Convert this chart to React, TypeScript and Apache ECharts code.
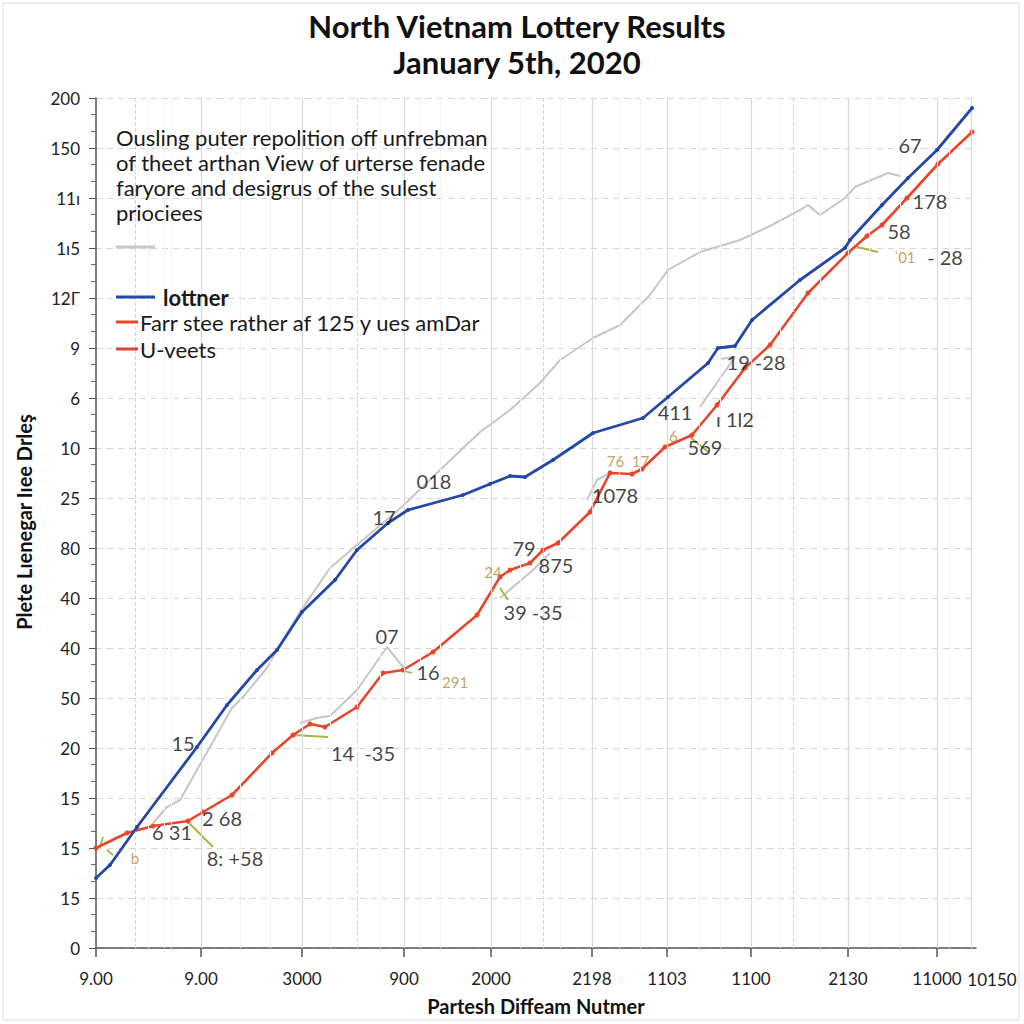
import React, { useEffect, useRef } from "react";
import * as echarts from "echarts";

// ---------- data ----------
const yTickLabels = ["0", "15", "15", "15", "20", "50", "40", "40", "80", "25", "10", "6", "9", "12Γ", "1ı5", "11ı", "150", "200"];
const xTickValues = [0, 11.93, 23.41, 35.0, 44.89, 56.36, 64.89, 74.43, 85.45, 95.57];
const xTickLabels = ["9.00", "9.00", "3000", "900", "2000", "2198", "1103", "1100", "2130", "11000"];
const xExtraLabel = "10150";

const blueSeries: [number, number][] = [
  [0, 1.4], [1.59, 1.66], [4.66, 2.42], [11.48, 4.02], [14.89, 4.86], [18.3, 5.56], [20.57, 5.96],
  [23.41, 6.72], [27.16, 7.36], [29.66, 7.96], [33.18, 8.5], [35.45, 8.76], [41.7, 9.06], [44.77, 9.28],
  [47.05, 9.44], [48.75, 9.42], [51.93, 9.76], [56.48, 10.3], [62.16, 10.6], [65.0, 11.02], [69.55, 11.7],
  [70.68, 12.0], [72.61, 12.04], [74.55, 12.56], [80.0, 13.36], [85.11, 14.0], [85.68, 14.16],
  [89.32, 14.86], [92.27, 15.4], [95.57, 15.96], [99.55, 16.8],
];

const redSeries: [number, number][] = [
  [0, 2.0], [3.52, 2.3], [6.48, 2.44], [10.45, 2.54], [12.16, 2.72], [15.45, 3.06], [20.0, 3.9],
  [22.39, 4.26], [24.32, 4.48], [26.02, 4.42], [29.66, 4.82], [32.61, 5.5], [34.89, 5.56], [38.3, 5.92],
  [43.3, 6.66], [45.91, 7.42], [47.05, 7.56], [49.32, 7.7], [50.8, 7.96], [52.5, 8.1], [56.14, 8.72],
  [58.41, 9.5], [60.91, 9.48], [62.05, 9.58], [64.66, 10.02], [67.73, 10.26], [70.57, 10.86],
  [73.75, 11.6], [76.59, 12.06], [80.91, 13.1], [85.45, 13.9], [87.61, 14.24], [89.32, 14.46],
  [92.16, 15.0], [95.68, 15.68], [99.55, 16.32],
];

const grayMain: [number, number][] = [
  [6.48, 2.5], [8.07, 2.82], [9.55, 2.96], [11.02, 3.42], [15.45, 4.8], [16.7, 5.02], [19.43, 5.6],
  [20.57, 5.96], [23.18, 6.72], [26.59, 7.6], [29.66, 8.06], [35.0, 8.86], [39.09, 9.56], [43.64, 10.32],
  [47.05, 10.76], [50.45, 11.3], [52.73, 11.76], [56.48, 12.2], [59.55, 12.46], [62.95, 13.06],
  [65.0, 13.56], [68.64, 13.92], [73.18, 14.16], [76.59, 14.44], [80.0, 14.76], [80.91, 14.86],
  [82.27, 14.66], [85.11, 15.0], [86.25, 15.22], [90.0, 15.5], [91.36, 15.44],
];
const graySegB: [number, number][] = [[23.18, 4.5], [25.11, 4.6], [26.59, 4.64], [29.66, 5.16], [33.07, 6.02], [34.89, 5.62]];
const graySegC: [number, number][] = [[45.91, 7.0], [49.66, 7.56], [51.59, 7.9]];
const graySegD: [number, number][] = [[55.8, 8.96], [56.93, 9.36], [58.41, 9.5]];
const graySegE: [number, number][] = [[68.64, 10.82], [72.61, 11.82], [70.91, 11.78]];

// annotations: [x, y, text, kind]  kind 0 = dark, 1 = olive
const annotations: [number, number, string, number][] = [
  [9.89, 4.1, "15", 0], [8.64, 2.32, "6 31", 0], [14.32, 2.6, "2 68", 0], [15.8, 1.8, "8: +58", 0],
  [4.43, 1.8, "b", 1], [33.07, 6.24, "07", 0], [37.73, 5.52, "16", 0], [40.8, 5.32, "291", 1],
  [30.34, 3.9, "14  -35", 0], [32.73, 8.62, "17", 0], [38.41, 9.34, "018", 0], [48.64, 8.0, "79", 0],
  [45.11, 7.52, "24", 1], [52.27, 7.66, "875", 0], [49.66, 6.72, "39 -35", 0], [60.45, 9.74, "76  17", 1],
  [58.98, 9.06, "1078", 0], [65.8, 10.72, "411", 0], [72.61, 10.58, "ı 1l2", 0], [65.6, 10.24, "6", 1],
  [69.2, 10.02, "569", 0], [75.0, 11.72, "19 -28", 0], [92.5, 16.06, "67", 0], [94.77, 14.94, "178", 0],
  [91.25, 14.34, "58", 0], [91.93, 13.82, "ˈ01", 1], [96.48, 13.82, "- 28", 0],
];

// connector strokes: [x1, y1, x2, y2]
const connectors: [number, number, number, number][] = [
  [10.45, 2.52, 13.3, 2.02], [22.39, 4.26, 26.36, 4.22], [45.91, 7.2, 46.82, 6.96],
  [67.5, 10.22, 69.55, 9.92], [86.48, 14.02, 88.86, 13.92], [0.8, 2.22, 0.4, 2.0],
  [1.25, 1.96, 1.93, 1.86], [35.0, 5.54, 35.9, 5.5],
];

const solidGridX = [11.93, 23.41, 35.0, 44.89, 56.36, 64.89, 74.43, 85.45, 95.57, 99.43];
const dashedGridX = [4.43, 29.66, 50.8, 79.2];
const faintGridX = [5.9, 7.8, 8.6, 16.4, 19.8, 26.6, 32.3, 36.8, 39.1, 48.2, 52.7, 59.5, 61.8, 68.6, 70.9, 77.7, 82.3, 87.9, 91.4, 97.0];

const legendItems = [
  { text: "", color: "#c8c8c8", long: true, bold: false },
  { text: "lottner", color: "#2447a8", long: true, bold: true },
  { text: "Farr stee rather af 125 y ues amDar", color: "#e8452c", long: false, bold: false },
  { text: "U-veets", color: "#d8403a", long: false, bold: false },
];
const noteLines = [
  "Ousling puter repolition off unfrebman",
  "of theet arthan View of urterse fenade",
  "faryore and desigrus of the sulest",
  "prioci\u00e9es".replace("\u00e9", "e"),
];
const titleLines = ["North Vietnam Lottery Results", "January 5th, 2020"];

const FONT = "Lato, 'Open Sans', sans-serif";

export default function App() {
  const ref = useRef<HTMLDivElement>(null);
  useEffect(() => {
    if (!ref.current) return;
    const chart = echarts.init(ref.current, undefined, { renderer: "svg" });

    const vLine = (xs: number[], color: string, type: string, width: number) =>
      xs.map((x) => ({ xAxis: x, lineStyle: { color, type, width } }));

    const legendY = [247, 297, 322, 349];
    const graphics: any[] = [
      { type: "rect", z: 100, shape: { x: 3, y: 3, width: 1016, height: 1017 }, style: { fill: "none", stroke: "#dcdcdc", lineWidth: 1 }, silent: true },
    ];
    titleLines.forEach((t, i) => {
      graphics.push({ type: "text", z: 100, x: 517, y: 26 + i * 36, style: { text: t, font: `bold 31px ${FONT}`, fill: "#111", align: "center", verticalAlign: "middle" } });
    });
    noteLines.forEach((t, i) => {
      graphics.push({ type: "text", z: 100, x: 116, y: 137 + i * 25, style: { text: t, font: `22px ${FONT}`, fill: "#1a1a1a", verticalAlign: "middle" } });
    });
    legendItems.forEach((it, i) => {
      const y = legendY[i];
      graphics.push({ type: "line", z: 100, shape: { x1: 116, y1: y, x2: it.long ? 155 : 138, y2: y }, style: { stroke: it.color, lineWidth: 3 } });
      if (it.text) {
        graphics.push({
          type: "text", z: 100, x: it.long ? 163 : 140, y,
          style: { text: it.text, font: `${it.bold ? "bold " : ""}22px ${FONT}`, fill: "#1a1a1a", verticalAlign: "middle" },
        });
      }
    });
    graphics.push({ type: "text", z: 100, x: 992, y: 979, style: { text: xExtraLabel, font: `17px ${FONT}`, fill: "#222", align: "center", verticalAlign: "middle" } });
    graphics.push({ type: "text", z: 100, x: 536, y: 1006, style: { text: "Partesh Diffeam Nutmer", font: `bold 20px ${FONT}`, fill: "#111", align: "center", verticalAlign: "middle" } });
    graphics.push({ type: "text", z: 100, x: 24, y: 522, rotation: Math.PI / 2, style: { text: "Plete Lıenegar Iıee Drleş", font: `bold 20px ${FONT}`, fill: "#111", align: "center", verticalAlign: "middle" } });

    const grayLine = (data: [number, number][], name: string) => ({
      type: "line", name, data, symbol: "none", lineStyle: { color: "#c6c6c6", width: 2 }, z: 2, silent: true,
    });

    chart.setOption({
      animation: false,
      backgroundColor: "#ffffff",
      grid: { left: 96, right: 48, top: 98, bottom: 76 },
      xAxis: {
        type: "value", min: 0, max: 100,
        axisLine: { show: true, lineStyle: { color: "#555", width: 1.5 } },
        axisTick: { show: true, customValues: xTickValues, length: 9, lineStyle: { color: "#555", width: 1.5 } },
        axisLabel: {
          customValues: xTickValues, margin: 22, fontFamily: FONT, fontSize: 17, color: "#222",
          formatter: (v: number) => { const i = xTickValues.indexOf(v); return i >= 0 ? xTickLabels[i] : ""; },
        },
        splitLine: { show: false },
      },
      yAxis: {
        type: "value", min: 0, max: 17, interval: 1,
        axisLine: { show: true, lineStyle: { color: "#555", width: 1.5 } },
        axisTick: { show: true, length: 7, lineStyle: { color: "#555" } },
        minorTick: { show: true, splitNumber: 3, length: 5, lineStyle: { color: "#666" } },
        axisLabel: { margin: 16, fontFamily: FONT, fontSize: 17, color: "#222", formatter: (v: number) => yTickLabels[v] ?? "" },
        splitLine: { show: true, lineStyle: { color: "#d6d6d6", type: [6, 5], width: 1 } },
      },
      graphic: graphics,
      series: [
        {
          type: "line", name: "grid", data: [], silent: true,
          markLine: {
            silent: true, symbol: "none", label: { show: false },
            data: [
              ...vLine(faintGridX, "#f1f1f1", "solid", 1),
              ...vLine(dashedGridX, "#d6d6d6", "dashed", 1),
              ...vLine(solidGridX, "#d9d9d9", "solid", 1.2),
            ],
          },
        },
        grayLine(grayMain, "g0"), grayLine(graySegB, "g1"), grayLine(graySegC, "g2"), grayLine(graySegD, "g3"), grayLine(graySegE, "g4"),
        {
          type: "custom", name: "connectors", data: connectors, z: 3, silent: true,
          renderItem: (_p: any, api: any) => {
            const a = api.coord([api.value(0), api.value(1)]);
            const b = api.coord([api.value(2), api.value(3)]);
            return { type: "line", shape: { x1: a[0], y1: a[1], x2: b[0], y2: b[1] }, style: { stroke: "#a9b23e", lineWidth: 1.8 } };
          },
          encode: { x: [0, 2], y: [1, 3] },
        },
        {
          type: "line", name: "red", data: redSeries, symbol: "circle", symbolSize: 5, showAllSymbol: true,
          itemStyle: { color: "#e8452c" }, lineStyle: { color: "#e8452c", width: 2.6 }, z: 4,
        },
        {
          type: "line", name: "blue", data: blueSeries, symbol: "circle", symbolSize: 4, showAllSymbol: true,
          itemStyle: { color: "#2447a8" }, lineStyle: { color: "#2447a8", width: 2.8 }, z: 5,
        },
        {
          type: "scatter", name: "notes", symbolSize: 0, z: 6, silent: true,
          data: annotations.map(([x, y, t, k]) => ({
            value: [x, y], name: t,
            label: {
              show: true, position: "inside", formatter: t, fontFamily: FONT,
              fontSize: k ? 15 : 20, color: k ? "#b08a3a" : "#111",
            },
          })),
        },
      ],
    });
    return () => chart.dispose();
  }, []);
  return <div ref={ref} style={{ position: "fixed", left: 0, top: 0, width: 1024, height: 1024 }} />;
}
